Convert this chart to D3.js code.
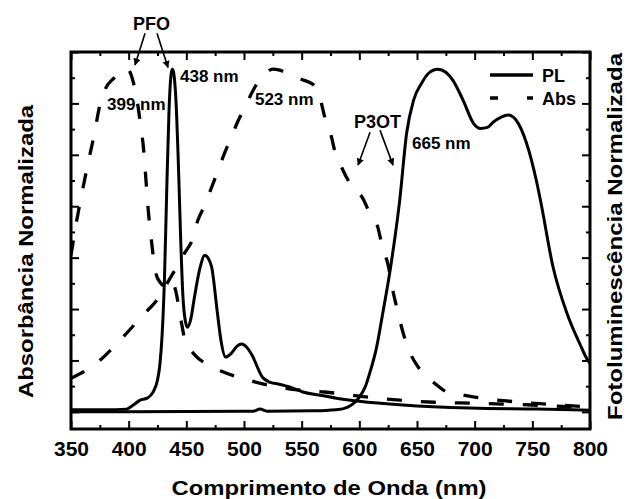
<!DOCTYPE html>
<html>
<head>
<meta charset="utf-8">
<script src="https://cdn.jsdelivr.net/npm/d3@7"></script>
<style>
  body { margin: 0; background: #fff; }
  svg text { font-family: "Liberation Sans", Arial, Helvetica, sans-serif; font-weight: bold; fill: #000; }
</style>
</head>
<body>
<svg width="627" height="499"></svg>
<script>
// wavelength (nm), normalised intensity
var pfoPL = [[350,0.006],[380,0.006],[398,0.008],[404,0.02],[410,0.034],[416,0.04],[421,0.057],[425,0.093],
  [427,0.136],[429,0.224],[431,0.384],[433,0.646],[435,0.88],[437,0.99],[438,1.0],[439,0.99],[441,0.909],
  [443,0.734],[445,0.515],[447,0.34],[449,0.268],[451,0.247],[454,0.273],[457,0.334],[462,0.422],[466,0.457],
  [469,0.448],[472,0.422],[477,0.287],[480,0.209],[484,0.16],[489,0.171],[494,0.192],[498,0.198],[503,0.186],
  [507,0.165],[516,0.101],[522,0.087],[530,0.081],[540,0.072],[551,0.058],[565,0.049],[580,0.04],[600,0.031],
  [638,0.02],[696,0.011],[754,0.008],[800,0.005]];

var p3otPL = [[350,0.0],[400,0.0],[500,0.002],[508,0.002],[514,0.008],[520,0.002],[560,0.003],[580,0.006],
  [590,0.014],[600,0.043],[605,0.072],[609,0.113],[615,0.189],[620,0.282],[627,0.42],[635,0.617],[641,0.813],
  [647,0.909],[654,0.959],[660,0.988],[668,1.0],[675,0.991],[681,0.968],[690,0.909],[699,0.842],[705,0.827],
  [711,0.83],[716,0.845],[723,0.86],[729,0.866],[736,0.851],[745,0.784],[754,0.667],[757,0.618],[768,0.422],
  [780,0.288],[791,0.2],[798,0.151],[800,0.142]];

var pfoAbs = [[350,0.457],[355,0.559],[360,0.647],[365,0.729],[370,0.807],[375,0.895],[380,0.944],[388,0.976],
  [394,0.997],[399,1.0],[404,0.962],[407,0.915],[410,0.845],[413,0.764],[415,0.676],[417,0.588],[420,0.492],
  [423,0.413],[427,0.379],[432,0.367],[437,0.385],[441,0.35],[445,0.274],[450,0.195],[455,0.175],[460,0.157],
  [470,0.136],[480,0.119],[495,0.101],[510,0.087],[530,0.072],[550,0.063],[570,0.058],[600,0.046],[635,0.034],
  [665,0.028],[700,0.025],[750,0.02],[800,0.011]];

var p3otAbs = [[350,0.098],[372,0.142],[395,0.218],[414,0.288],[423,0.32],[437,0.396],[449,0.466],[455,0.501],
  [460,0.559],[466,0.603],[472,0.656],[477,0.7],[482,0.745],[490,0.81],[495,0.85],[501,0.89],[509,0.945],
  [518,0.985],[525,1.0],[531,0.997],[542,0.98],[550,0.97],[560,0.955],[566,0.915],[570,0.86],[575,0.813],
  [579,0.758],[585,0.711],[594,0.655],[603,0.623],[609,0.58],[616,0.539],[620,0.481],[625,0.428],[629,0.355],
  [633,0.297],[638,0.23],[644,0.172],[651,0.131],[658,0.105],[665,0.084],[676,0.058],[690,0.049],[700,0.043],
  [730,0.031],[765,0.022],[800,0.014]];

var xMajorTicks = d3.range(350, 801, 50);
var xMinorTicks = d3.range(375, 800, 50);
var yMajorTicks = [0, 0.15, 0.3, 0.45, 0.6, 0.75, 0.9, 1.05];
var yMinorTicks = [0.075, 0.225, 0.375, 0.525, 0.675, 0.825, 0.975];

var legendLabels = ["PL", "Abs"];

// text: label, [nm, value] anchor
var peakLabels = [
  { text: "399 nm", at: [381.2, 0.88] },
  { text: "438 nm", at: [444.5, 0.962] },
  { text: "523 nm", at: [509.5, 0.895] },
  { text: "665 nm", at: [645.7, 0.768] }
];
var groupLabels = [
  { text: "PFO", at: [419.8, 1.114], arrows: [[[414.2, 1.105], [405.5, 1.012]], [[424.6, 1.105], [434.1, 1.005]]] },
  { text: "P3OT", at: [615.8, 0.828], arrows: [[[609.3, 0.816], [598.9, 0.72]], [[617.9, 0.822], [629.2, 0.72]]] }
];

(function () {
  var svg = d3.select("svg"),
      pl = 71, pr = 590, pt = 52, pb = 429;

  var x = d3.scaleLinear().domain([350, 800]).range([pl, pr]);
  var y = d3.scaleLinear().domain([-0.05, 1.05]).range([pb, pt]);

  var defs = svg.append("defs");
  defs.append("clipPath").attr("id", "plot")
    .append("rect").attr("x", pl).attr("y", pt).attr("width", pr - pl).attr("height", pb - pt);
  defs.append("marker")
    .attr("id", "head").attr("viewBox", "0 0 10 10").attr("refX", 9).attr("refY", 5)
    .attr("markerWidth", 4.5).attr("markerHeight", 4.5).attr("orient", "auto")
    .append("path").attr("d", "M0,0L10,5L0,10z").attr("fill", "#000");

  var line = d3.line()
    .x(function(d) { return x(d[0]); })
    .y(function(d) { return y(d[1]); })
    .curve(d3.curveMonotoneX);

  var curves = svg.append("g").attr("clip-path", "url(#plot)");

  [pfoAbs, p3otAbs].forEach(function(s) {
    curves.append("path").datum(s).attr("d", line)
      .attr("fill", "none").attr("stroke", "#000").attr("stroke-width", 3.3)
      .attr("stroke-dasharray", "15,19");
  });
  [pfoPL, p3otPL].forEach(function(s) {
    curves.append("path").datum(s).attr("d", line)
      .attr("fill", "none").attr("stroke", "#000").attr("stroke-width", 3)
      .attr("stroke-linejoin", "round");
  });

  function styleAxis(g) {
    g.select(".domain").remove();
    g.selectAll(".tick line").attr("stroke", "#000").attr("stroke-width", 2);
  }

  // major + minor ticks, all pointing inward
  svg.append("g").attr("transform", "translate(0," + pb + ")")
    .call(d3.axisBottom(x).tickValues(xMajorTicks).tickSize(-8).tickPadding(12).tickFormat(d3.format("d")))
    .call(styleAxis)
    .selectAll("text").attr("font-size", 21);
  svg.append("g").attr("transform", "translate(0," + pb + ")")
    .call(d3.axisBottom(x).tickValues(xMinorTicks).tickSize(-4).tickFormat(""))
    .call(styleAxis);
  svg.append("g").attr("transform", "translate(0," + pt + ")")
    .call(d3.axisTop(x).tickValues(xMajorTicks).tickSize(-8).tickFormat(""))
    .call(styleAxis);
  svg.append("g").attr("transform", "translate(0," + pt + ")")
    .call(d3.axisTop(x).tickValues(xMinorTicks).tickSize(-4).tickFormat(""))
    .call(styleAxis);
  svg.append("g").attr("transform", "translate(" + pl + ",0)")
    .call(d3.axisLeft(y).tickValues(yMajorTicks).tickSize(-8).tickFormat(""))
    .call(styleAxis);
  svg.append("g").attr("transform", "translate(" + pl + ",0)")
    .call(d3.axisLeft(y).tickValues(yMinorTicks).tickSize(-4).tickFormat(""))
    .call(styleAxis);
  svg.append("g").attr("transform", "translate(" + pr + ",0)")
    .call(d3.axisRight(y).tickValues(yMajorTicks).tickSize(-8).tickFormat(""))
    .call(styleAxis);
  svg.append("g").attr("transform", "translate(" + pr + ",0)")
    .call(d3.axisRight(y).tickValues(yMinorTicks).tickSize(-4).tickFormat(""))
    .call(styleAxis);

  svg.append("rect")
    .attr("x", pl).attr("y", pt).attr("width", pr - pl).attr("height", pb - pt)
    .attr("fill", "none").attr("stroke", "#000").attr("stroke-width", 3);

  // axis titles
  svg.append("text").attr("x", 329).attr("y", 495).attr("text-anchor", "middle")
    .attr("font-size", 21).attr("textLength", 315).attr("lengthAdjust", "spacingAndGlyphs")
    .text("Comprimento de Onda (nm)");
  svg.append("text").attr("transform", "translate(33,251.5) rotate(-90)").attr("text-anchor", "middle")
    .attr("font-size", 21).attr("textLength", 293).attr("lengthAdjust", "spacingAndGlyphs")
    .text("Absorbância Normalizada");
  svg.append("text").attr("transform", "translate(622,236.5) rotate(-90)").attr("text-anchor", "middle")
    .attr("font-size", 21).attr("textLength", 367).attr("lengthAdjust", "spacingAndGlyphs")
    .text("Fotoluminescência Normalizada");

  // peak annotations
  svg.selectAll(".peak").data(peakLabels).enter().append("text")
    .attr("class", "peak")
    .attr("x", function(d) { return x(d.at[0]); })
    .attr("y", function(d) { return y(d.at[1]); })
    .attr("font-size", 17)
    .text(function(d) { return d.text; });

  groupLabels.forEach(function(g) {
    svg.append("text").attr("x", x(g.at[0])).attr("y", y(g.at[1]))
      .attr("text-anchor", "middle").attr("font-size", 18).text(g.text);
    g.arrows.forEach(function(a) {
      svg.append("line")
        .attr("x1", x(a[0][0])).attr("y1", y(a[0][1]))
        .attr("x2", x(a[1][0])).attr("y2", y(a[1][1]))
        .attr("stroke", "#000").attr("stroke-width", 1.6)
        .attr("marker-end", "url(#head)");
    });
  });

  // legend
  var legend = svg.append("g").attr("transform", "translate(490,75)");
  legendLabels.forEach(function(lab, i) {
    var row = legend.append("g").attr("transform", "translate(0," + (i * 23) + ")");
    row.append("line").attr("x1", 0).attr("x2", 43).attr("y1", 0).attr("y2", 0)
      .attr("stroke", "#000").attr("stroke-width", 3.3)
      .attr("stroke-dasharray", i === 1 ? "8,29" : null);
    row.append("text").attr("x", 52).attr("y", 6.5).attr("font-size", 18).text(lab);
  });
})();
</script>
</body>
</html>
